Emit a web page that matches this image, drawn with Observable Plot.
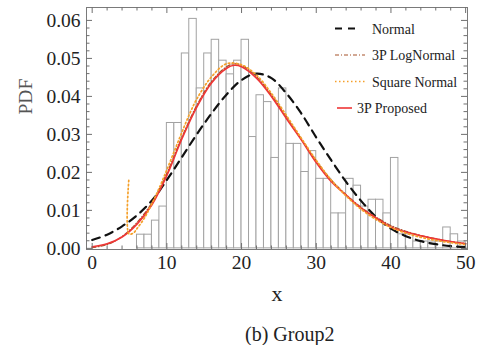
<!DOCTYPE html>
<html>
<head>
<meta charset="utf-8">
<script src="https://cdn.jsdelivr.net/npm/d3@7"></script>
<script src="https://cdn.jsdelivr.net/npm/@observablehq/plot@0.6"></script>
<style>
  body { margin: 0; background: #fff; }
  #wrap { position: relative; width: 478px; height: 345px; font-family: "Liberation Serif", "Times New Roman", serif; overflow: hidden; }
  #legend { position: absolute; left: 0; top: 0; pointer-events: none; }
  #caption { position: absolute; left: 0; width: 478px; top: 323px; font-size: 20px; color: #222; font-family: "Liberation Serif", serif; }
  #caption span { position: absolute; left: 245px; white-space: nowrap; }
</style>
</head>
<body>
<div id="wrap"><div id="caption"><span>(b) Group2</span></div></div>
<script>
// ---------- data ----------
const binStart = [6,7,8,9,10,11,12,13,14,15,16,17,18,19,20,21,22,23,24,25,26,27,28,29,30,31,32,33,34,35,36,37,38,39,40,41,42,43,44,45,46,47,48,49];
const binDensity = [0.0036,0.0036,0.0073,0.0110,0.0330,0.0330,0.0513,0.0604,0.0421,0.0513,0.0549,0.0494,0.0458,0.0494,0.0549,0.0293,0.0403,0.0385,0.0238,0.0421,0.0275,0.0275,0.0201,0.0256,0.0183,0.0183,0.0092,0.0092,0.0183,0.0165,0.0110,0.0128,0.0128,0.0092,0.0238,0.0037,0.0037,0.0018,0.0018,0.0018,0.0018,0.0055,0.0037,0.0018];

const normalX = [0,2,4,6,8,10,12,14,16,18,20,22,24,26,28,30,32,34,36,38,40,42,44,46,48,50];
const normalY = [0.0022,0.0036,0.0058,0.0087,0.0126,0.0180,0.0240,0.0300,0.0356,0.0405,0.0443,0.0460,0.0448,0.0408,0.0355,0.0292,0.0232,0.0175,0.0125,0.0083,0.0052,0.0032,0.0019,0.0011,0.0006,0.0003];

const logNormalX = [0,2,4,6,8,10,12,14,16,18,19,20,22,24,26,28,30,32,34,36,38,40,42,44,46,48,50];
const logNormalY = [0.0002,0.0010,0.0031,0.0068,0.0120,0.0198,0.0292,0.0376,0.0440,0.0478,0.0486,0.0482,0.0452,0.0404,0.0346,0.0288,0.0230,0.0180,0.0141,0.0108,0.0082,0.0060,0.0045,0.0034,0.0025,0.0018,0.0013];

const squareX = [4.9,4.92,5.5,6,7,8,9,10,11,12,13,14,16,18,20,22,24,26,28,30,32,34,36,38,40,42,44,46,48,50];
const squareY = [0.0179,0.0038,0.0040,0.0052,0.0080,0.0118,0.0160,0.0207,0.0256,0.0305,0.0352,0.0393,0.0452,0.0486,0.0483,0.0456,0.0408,0.0350,0.0290,0.0232,0.0180,0.0138,0.0103,0.0076,0.0055,0.0040,0.0029,0.0021,0.0015,0.0010];

const proposedX = [0,2,4,6,8,10,12,14,16,18,19,20,22,24,26,28,30,32,34,36,38,40,42,44,46,48,50];
const proposedY = [0.0004,0.0012,0.0030,0.0064,0.0115,0.0192,0.0288,0.0372,0.0436,0.0474,0.0482,0.0478,0.0448,0.0400,0.0342,0.0286,0.0226,0.0176,0.0140,0.0106,0.0080,0.0056,0.0043,0.0033,0.0025,0.0018,0.0012];

const xTickLabels = [0,10,20,30,40,50];
const yTickLabels = [0.00,0.01,0.02,0.03,0.04,0.05,0.06];
const seriesNames = ["Normal","3P LogNormal","Square Normal","3P Proposed"];

// ---------- build tables ----------
const bins = binStart.map((s,i) => ({x1: s, x2: s + 1, d: binDensity[i]}));
const zip = (xs, ys) => xs.map((x,i) => ({x, y: ys[i]}));
const normal = zip(normalX, normalY);
const logNormal = zip(logNormalX, logNormalY);
const square = zip(squareX, squareY);
const proposed = zip(proposedX, proposedY);

const xMinor = d3.range(0, 51, 2).filter(v => v % 10 !== 0);
const yMinor = d3.range(0, 31).map(i => i * 0.002).filter((v,i) => i % 5 !== 0 && v < 0.0634);

const frameH = 242, frameW = 381;
const tickCol = "#6f6f6f";
const serif = "'Liberation Serif', 'Times New Roman', serif";

const chart = Plot.plot({
  width: 478, height: 310,
  marginLeft: 86, marginRight: 11, marginTop: 7, marginBottom: 61,
  x: {domain: [-0.76, 50.25]},
  y: {domain: [-0.0003, 0.0634]},
  style: {fontFamily: serif, fontSize: "19.5px", color: "#222", background: "white"},
  marks: [
    Plot.rectY(bins, {x1: "x1", x2: "x2", y1: 0, y2: "d", fill: "white", stroke: "#a2a2a2", strokeWidth: 1}),
    Plot.line(normal, {x: "x", y: "y", stroke: "#111", strokeWidth: 2.2, strokeDasharray: "8,6", curve: "catmull-rom"}),
    Plot.line(logNormal, {x: "x", y: "y", stroke: "#a5522a", strokeWidth: 1.3, strokeDasharray: "4,2,1,2", curve: "catmull-rom"}),
    Plot.line(proposed, {x: "x", y: "y", stroke: "#ee3636", strokeWidth: 1.7, curve: "catmull-rom"}),
    Plot.line(square, {x: "x", y: "y", stroke: "#f5a02a", strokeWidth: 1.7, strokeDasharray: "1.5,2.5", curve: "catmull-rom"}),
    Plot.frame({stroke: "#7a7a7a"}),
    // inward ticks on all four sides
    Plot.tickX(xTickLabels, {x: d => d, insetTop: frameH - 6, stroke: tickCol}),
    Plot.tickX(xMinor, {x: d => d, insetTop: frameH - 3.5, stroke: tickCol}),
    Plot.tickX(xTickLabels, {x: d => d, insetBottom: frameH - 6, stroke: tickCol}),
    Plot.tickX(xMinor, {x: d => d, insetBottom: frameH - 3.5, stroke: tickCol}),
    Plot.tickY(yTickLabels, {y: d => d, insetRight: frameW - 6, stroke: tickCol}),
    Plot.tickY(yMinor, {y: d => d, insetRight: frameW - 3.5, stroke: tickCol}),
    Plot.tickY(yTickLabels, {y: d => d, insetLeft: frameW - 6, stroke: tickCol}),
    Plot.tickY(yMinor, {y: d => d, insetLeft: frameW - 3.5, stroke: tickCol}),
    Plot.axisX({ticks: xTickLabels, tickSize: 0, tickPadding: 6, tickFormat: d => String(d), label: null}),
    Plot.axisY({ticks: yTickLabels, tickSize: 0, tickPadding: 6, tickFormat: d => d.toFixed(2), label: null}),
    Plot.text(["x"], {text: d => d, frameAnchor: "bottom", dy: 51, fontSize: 22, fill: "#222"}),
    Plot.text(["PDF"], {text: d => d, frameAnchor: "left", dx: -61, dy: -14, rotate: -90, fontSize: 19.5, fill: "#555"})
  ]
});
document.getElementById("wrap").prepend(chart);

// ---------- legend drawn inside the frame ----------
const legendStyles = [
  {stroke: "#111", width: 2, dash: "7,6", x1: 335, x2: 360, tx: 372},
  {stroke: "#a5522a", width: 1.2, dash: "4,2,1,2", x1: 335, x2: 365, tx: 372},
  {stroke: "#f5a02a", width: 1.6, dash: "1.5,2.5", x1: 335, x2: 365, tx: 372},
  {stroke: "#ee3636", width: 1.6, dash: null, x1: 337, x2: 352, tx: 357}
];
const legendRowY = [28.5, 55, 81.5, 108];
const lg = d3.select("#wrap").append("svg").attr("id", "legend").attr("width", 478).attr("height", 345);
seriesNames.forEach((name, i) => {
  const s = legendStyles[i], y = legendRowY[i];
  lg.append("line").attr("x1", s.x1).attr("x2", s.x2).attr("y1", y).attr("y2", y)
    .attr("stroke", s.stroke).attr("stroke-width", s.width).attr("stroke-dasharray", s.dash);
  lg.append("text").attr("x", s.tx).attr("y", y + 5).text(name)
    .attr("font-family", serif).attr("font-size", 14).attr("fill", "#222");
});
</script>
</body>
</html>
